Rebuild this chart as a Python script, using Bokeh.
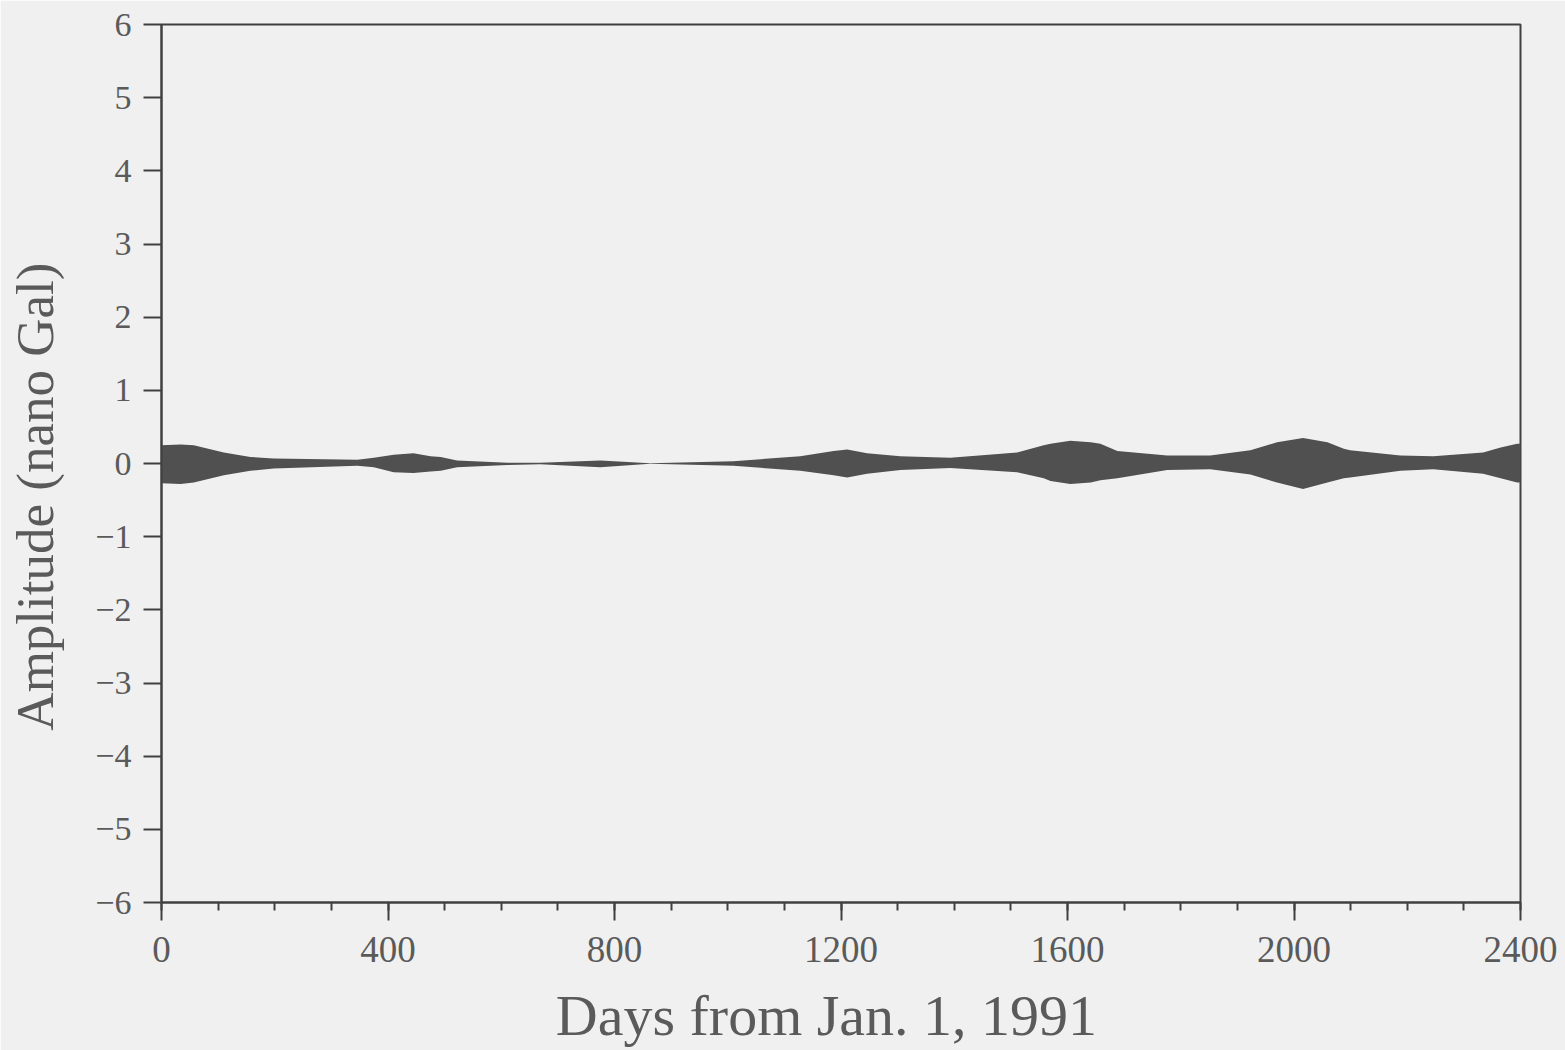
from bokeh.plotting import figure
from bokeh.models import FixedTicker, Range1d, ColumnDataSource
from bokeh.embed import file_html
from bokeh.resources import INLINE

# Envelope of the oscillating signal
days = [0, 34, 57, 110, 157, 198, 346, 375, 410, 445, 475, 493, 522, 611, 669,
        775, 863, 1010, 1128, 1187, 1211, 1246, 1305, 1393, 1511, 1558, 1570,
        1605, 1641, 1658, 1688, 1776, 1852, 1923, 1970, 2016, 2059, 2088, 2099,
        2188, 2246, 2334, 2365, 2394, 2400]
upper = [0.25, 0.26, 0.25, 0.15, 0.09, 0.07, 0.05, 0.08, 0.12, 0.14, 0.10, 0.09,
         0.04, 0.01, 0.01, 0.04, 0.005, 0.03, 0.10, 0.17, 0.19, 0.14, 0.10, 0.08,
         0.15, 0.25, 0.27, 0.31, 0.29, 0.27, 0.17, 0.11, 0.11, 0.18, 0.29, 0.35,
         0.29, 0.20, 0.18, 0.11, 0.10, 0.15, 0.22, 0.27, 0.27]
lower = [-0.27, -0.28, -0.26, -0.16, -0.10, -0.07, -0.03, -0.05, -0.12, -0.13,
         -0.11, -0.10, -0.05, -0.02, -0.01, -0.05, -0.005, -0.03, -0.10, -0.16,
         -0.19, -0.14, -0.09, -0.06, -0.12, -0.20, -0.24, -0.28, -0.26, -0.23,
         -0.20, -0.09, -0.08, -0.15, -0.26, -0.35, -0.26, -0.20, -0.19, -0.10,
         -0.08, -0.14, -0.20, -0.26, -0.26]

x_ticks = [0, 400, 800, 1200, 1600, 2000, 2400]
x_labels = ["0", "400", "800", "1200", "1600", "2000", "2400"]
y_ticks = [6, 5, 4, 3, 2, 1, 0, -1, -2, -3, -4, -5, -6]
y_labels = ["6", "5", "4", "3", "2", "1", "0", "−1", "−2", "−3", "−4", "−5", "−6"]
x_title = "Days from Jan. 1, 1991"
y_title = "Amplitude (nano Gal)"

BG = "#f0f0f0"
AX = "#404040"
TXT = "#5a5a5a"
FONT = "Liberation Serif"
NB = "\u00a0"

p = figure(width=1565, height=1050, output_backend="svg", toolbar_location=None,
           x_range=Range1d(0, 2400), y_range=Range1d(-6, 6),
           min_border_left=161, min_border_right=45, min_border_top=24,
           min_border_bottom=148)
p.background_fill_color = BG
p.border_fill_color = BG
p.outline_line_color = AX
p.outline_line_width = 2
p.grid.visible = False

src = ColumnDataSource(dict(x=days, y1=lower, y2=upper))
p.varea(x="x", y1="y1", y2="y2", source=src, fill_color="#505050")

xa = p.xaxis[0]
xa.ticker = FixedTicker(ticks=x_ticks, minor_ticks=list(range(0, 2401, 100)))
xa.major_label_overrides = {t: l for t, l in zip(x_ticks, x_labels)}
xa.axis_label = x_title + NB * 2

ya = p.yaxis[0]
ya.ticker = FixedTicker(ticks=y_ticks, minor_ticks=[])
ya.major_label_overrides = {t: l for t, l in zip(y_ticks, y_labels)}
ya.axis_label = y_title + NB * 5

for ax in (xa, ya):
    ax.axis_line_color = AX
    ax.axis_line_width = 2
    ax.major_tick_line_color = AX
    ax.major_tick_line_width = 2
    ax.minor_tick_line_color = AX
    ax.minor_tick_line_width = 2
    ax.major_tick_in = 0
    ax.major_tick_out = 18
    ax.minor_tick_in = 0
    ax.minor_tick_out = 8
    ax.major_label_text_font = FONT
    ax.major_label_text_color = TXT
    ax.axis_label_text_font = FONT
    ax.axis_label_text_color = TXT
    ax.axis_label_text_font_style = "normal"

xa.major_label_text_font_size = "37px"
xa.major_label_standoff = 16
xa.axis_label_text_font_size = "58px"
xa.axis_label_standoff = 18

ya.major_label_text_font_size = "34px"
ya.major_label_standoff = 12
ya.axis_label_text_font_size = "53px"
ya.axis_label_standoff = 28

open("out.html", "w").write(file_html(p, INLINE))
